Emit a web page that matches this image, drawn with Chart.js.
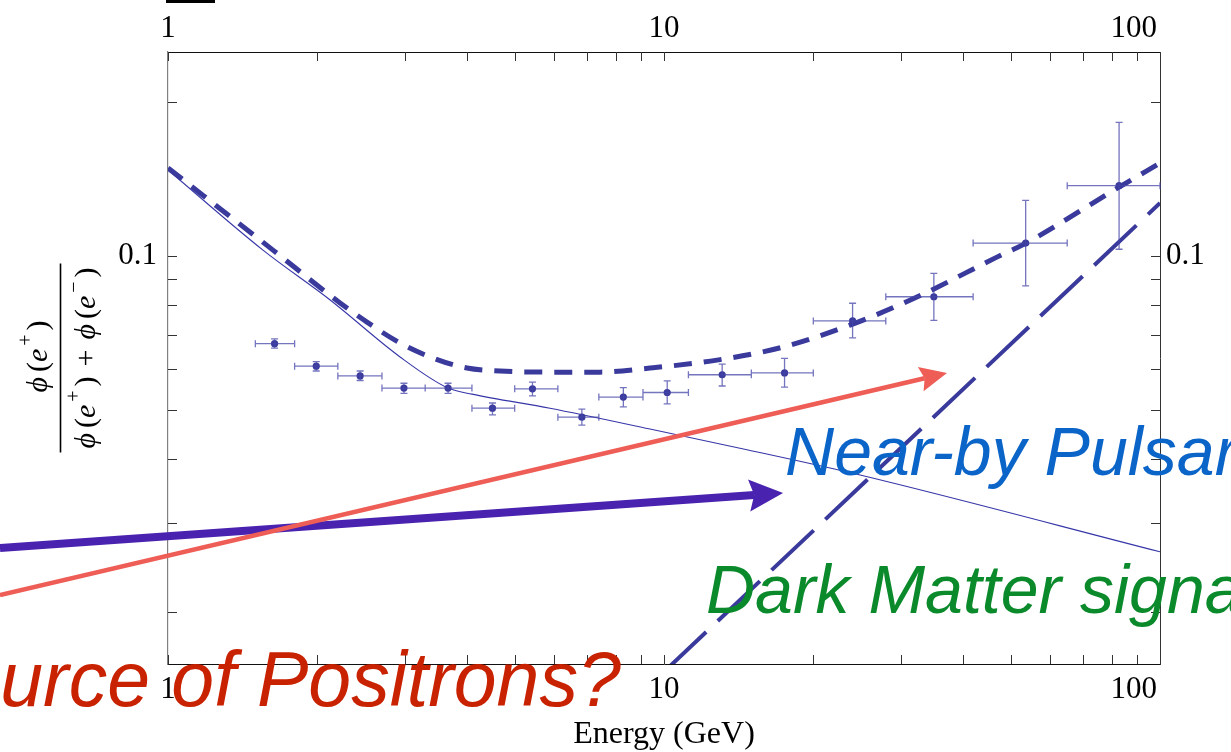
<!DOCTYPE html>
<html>
<head>
<meta charset="utf-8">
<title>Positron fraction</title>
<script src="https://cdn.jsdelivr.net/npm/chart.js@4.4.1/dist/chart.umd.min.js"></script>
<style>
  html, body { margin: 0; padding: 0; background: #ffffff; }
  #wrap { width: 1231px; height: 752px; position: relative; overflow: hidden; }
</style>
</head>
<body>
<div id="wrap"><canvas id="chart" width="1231" height="752"></canvas></div>
<script>
// ---- Measured positron fraction: bin centres, bin edges (GeV), value and 1-sigma bounds
const energy       = [1.64, 1.99, 2.44, 2.99, 3.67, 4.51, 5.43, 6.83, 8.28, 10.15, 13.1, 17.5, 24.0, 35.0, 53.6, 82.7];
const energyLow    = [1.50, 1.80, 2.20, 2.70, 3.30, 4.10, 5.00, 6.11, 7.39, 9.07, 11.2, 15.0, 20.0, 28.0, 42.0, 65.0];
const energyHigh   = [1.80, 2.20, 2.70, 3.30, 4.10, 5.00, 6.11, 7.39, 9.07, 11.2, 15.0, 20.0, 28.0, 42.0, 65.0, 100];
const fraction     = [0.0673, 0.0608, 0.0582, 0.0551, 0.0551, 0.0503, 0.0549, 0.0483, 0.0529, 0.0540, 0.0585, 0.0590, 0.0746, 0.0832, 0.106, 0.1374];
const fractionLow  = [0.0660, 0.0595, 0.0570, 0.0538, 0.0538, 0.0488, 0.0532, 0.0466, 0.0506, 0.0513, 0.0556, 0.0553, 0.0691, 0.0748, 0.0874, 0.1031];
const fractionHigh = [0.0688, 0.0621, 0.0595, 0.0563, 0.0563, 0.0515, 0.0566, 0.0501, 0.0552, 0.0569, 0.0614, 0.0630, 0.0808, 0.0925, 0.1286, 0.1828];

// ---- Secondary (background) positron fraction
const backgroundEnergy = [1, 1.554, 2.123, 2.937, 3.669, 4.102, 5.89, 9.37, 14.7, 24.85, 100];
const backgroundValue  = [0.1475, 0.1027, 0.0820, 0.0634, 0.0551, 0.0536, 0.0503, 0.0458, 0.0417, 0.0372, 0.0263];

// ---- Background + extra primary source
const totalEnergy = [1, 1.628, 2.223, 2.519, 2.937, 3.421, 4.007, 4.671, 5.891, 7.43, 9.37, 12.79, 17.38, 23.71, 32.36, 46.9, 53.7, 82.7, 100];
const totalValue  = [0.1488, 0.1027, 0.0809, 0.0742, 0.0675, 0.0631, 0.0603, 0.0595, 0.0592, 0.0592, 0.0603, 0.0625, 0.0663, 0.0732, 0.0831, 0.0995, 0.106, 0.1365, 0.1521];

// ---- Primary source contribution alone
const sourceEnergy = [10, 100];
const sourceValue  = [0.0153, 0.127];

// ---- Axis ticks
const xTickValues  = [1, 2, 3, 4, 5, 6, 7, 8, 9, 10, 20, 30, 40, 50, 60, 70, 80, 90, 100];
const xLabelValues = [1, 10, 100];
const yTickValues  = [0.02, 0.03, 0.04, 0.05, 0.06, 0.07, 0.08, 0.09, 0.1, 0.2];
const yLabelValues = [0.1];

// ---- Slide annotations, anchored in (energy, fraction) coordinates
const arrowPulsar = { from: [0.4584, 0.02676], to: [17.38, 0.03429] };
const arrowDark   = { from: [0.4584, 0.02164], to: [37.2, 0.05896] };
const labelPulsar = { text: 'Near-by Pulsar',       at: [17.54, 0.03720] };
const labelDark   = { text: 'Dark Matter signal',   at: [12.15, 0.01995] };
const labelSource = { text: 'Source of Positrons?', at: [0.2963, 0.013113] };

const INK = '#3a3a9c';
const SERIF = '"Liberation Serif", "Times New Roman", "DejaVu Serif", serif';
const SANS = '"Liberation Sans", Arial, Helvetica, sans-serif';
const TICK = 9;

const pairs = (xs, ys) => xs.map((x, i) => ({ x: x, y: ys[i] }));

// error bars under the data points
const errorBars = {
  id: 'errorBars',
  afterDatasetsDraw(chart) {
    const { ctx, scales: { x, y } } = chart;
    ctx.save();
    ctx.strokeStyle = 'rgba(70,70,170,0.75)';
    ctx.lineWidth = 1.3;
    ctx.beginPath();
    energy.forEach((e, i) => {
      const px = x.getPixelForValue(e), py = y.getPixelForValue(fraction[i]);
      const xl = x.getPixelForValue(energyLow[i]), xh = x.getPixelForValue(energyHigh[i]);
      const yl = y.getPixelForValue(fractionLow[i]), yh = y.getPixelForValue(fractionHigh[i]);
      ctx.moveTo(xl, py); ctx.lineTo(xh, py);
      ctx.moveTo(xl, py - 3.5); ctx.lineTo(xl, py + 3.5);
      ctx.moveTo(xh, py - 3.5); ctx.lineTo(xh, py + 3.5);
      ctx.moveTo(px, yl); ctx.lineTo(px, yh);
      ctx.moveTo(px - 3.5, yl); ctx.lineTo(px + 3.5, yl);
      ctx.moveTo(px - 3.5, yh); ctx.lineTo(px + 3.5, yh);
    });
    ctx.stroke();
    ctx.restore();
  }
};

// inward frame ticks and the horizontal-axis numbers
const frameTicks = {
  id: 'frameTicks',
  afterDatasetsDraw(chart) {
    const { ctx, chartArea: a, scales } = chart;
    ctx.save();
    ctx.strokeStyle = '#333333';
    ctx.lineWidth = 1;
    ctx.beginPath();
    xTickValues.forEach(v => {
      const px = Math.round(scales.x.getPixelForValue(v)) + 0.5;
      ctx.moveTo(px, a.bottom); ctx.lineTo(px, a.bottom - TICK);
      ctx.moveTo(px, a.top); ctx.lineTo(px, a.top + TICK);
    });
    yTickValues.forEach(v => {
      const py = Math.round(scales.y.getPixelForValue(v)) + 0.5;
      ctx.moveTo(a.left, py); ctx.lineTo(a.left + TICK, py);
      ctx.moveTo(a.right, py); ctx.lineTo(a.right - TICK, py);
    });
    ctx.stroke();

    ctx.fillStyle = '#000000';
    ctx.font = '31px ' + SERIF;
    ctx.textBaseline = 'alphabetic';
    xLabelValues.forEach(v => {
      const px = scales.x.getPixelForValue(v);
      const txt = String(v);
      const atEnd = px >= a.right - 1;
      ctx.textAlign = atEnd ? 'right' : 'center';
      const tx = atEnd ? px - 3 : px;
      ctx.fillText(txt, tx, a.top - 15);
      ctx.fillText(txt, tx, a.bottom + 34);
    });
    // small dark bar above the frame
    ctx.fillRect(scales.x.getPixelForValue(1) - 2, 0, 49, 3);
    ctx.restore();
  }
};

function drawRich(ctx, segs, cx, baseline, size) {
  const fonts = {
    it: 'italic ' + size + 'px ' + SERIF,
    rm: size + 'px ' + SERIF,
    sup: Math.round(size * 0.68) + 'px ' + SERIF
  };
  let w = 0;
  const items = segs.map(s => {
    if (s.gap) { w += s.gap; return { gap: s.gap }; }
    const f = s.sup ? fonts.sup : (s.it ? fonts.it : fonts.rm);
    ctx.font = f;
    const mw = ctx.measureText(s.t).width;
    w += mw;
    return { t: s.t, f: f, w: mw, dy: s.sup ? -size * 0.5 : 0 };
  });
  let x = cx - w / 2;
  items.forEach(it => {
    if (it.gap) { x += it.gap; return; }
    ctx.font = it.f;
    ctx.fillText(it.t, x, baseline + it.dy);
    x += it.w;
  });
  return w;
}

// vertical axis title: positron fraction written as a fraction
const fractionTitle = {
  id: 'fractionTitle',
  afterDraw(chart) {
    const { ctx, chartArea: a } = chart;
    const size = 30;
    ctx.save();
    ctx.translate(a.left - 107.5, (a.top + a.bottom) / 2);
    ctx.rotate(-Math.PI / 2);
    ctx.fillStyle = '#000000';
    ctx.textAlign = 'left';
    ctx.textBaseline = 'alphabetic';
    const num = [
      { t: 'ϕ', it: true }, { gap: 5 }, { t: '(' }, { t: 'e', it: true }, { gap: 3 }, { t: '+', sup: true }, { gap: 4 }, { t: ')' }
    ];
    const den = [
      { t: 'ϕ', it: true }, { gap: 5 }, { t: '(' }, { t: 'e', it: true }, { gap: 3 }, { t: '+', sup: true }, { gap: 4 }, { t: ')' },
      { gap: 10 }, { t: '+' }, { gap: 10 },
      { t: 'ϕ', it: true }, { gap: 5 }, { t: '(' }, { t: 'e', it: true }, { gap: 3 }, { t: '−', sup: true }, { gap: 4 }, { t: ')' }
    ];
    drawRich(ctx, num, 1.5, -14, size);
    drawRich(ctx, den, 0, 34, size);
    ctx.strokeStyle = '#000000';
    ctx.lineWidth = 1.6;
    ctx.beginPath();
    ctx.moveTo(-94.5, 0); ctx.lineTo(94.5, 0);
    ctx.stroke();
    ctx.restore();
  }
};

function drawArrow(ctx, x0, y0, x1, y1, width, headLen, headHalf, color) {
  const ang = Math.atan2(y1 - y0, x1 - x0);
  const c = Math.cos(ang), s = Math.sin(ang);
  const bx = x1 - headLen * c, by = y1 - headLen * s;
  const nx = -s, ny = c;
  ctx.strokeStyle = color;
  ctx.fillStyle = color;
  ctx.lineWidth = width;
  ctx.lineCap = 'butt';
  ctx.beginPath();
  ctx.moveTo(x0, y0);
  ctx.lineTo(x1 - headLen * 0.85 * c, y1 - headLen * 0.85 * s);
  ctx.stroke();
  ctx.beginPath();
  ctx.moveTo(x1, y1);
  ctx.lineTo(bx + nx * headHalf, by + ny * headHalf);
  ctx.lineTo(x1 - headLen * 0.85 * c, y1 - headLen * 0.85 * s);
  ctx.lineTo(bx - nx * headHalf, by - ny * headHalf);
  ctx.closePath();
  ctx.fill();
}

// arrows and captions laid over the plot
const slideNotes = {
  id: 'slideNotes',
  afterDraw(chart) {
    const { ctx, scales: { x, y } } = chart;
    const P = pt => [x.getPixelForValue(pt[0]), y.getPixelForValue(pt[1])];
    ctx.save();
    let a = P(arrowPulsar.from), b = P(arrowPulsar.to);
    drawArrow(ctx, a[0], a[1], b[0], b[1], 8, 34, 16, '#4a22b0');
    a = P(arrowDark.from); b = P(arrowDark.to);
    drawArrow(ctx, a[0], a[1], b[0], b[1], 4.5, 27, 12.5, '#ee5d56');

    ctx.textAlign = 'left';
    ctx.textBaseline = 'alphabetic';
    let p = P(labelPulsar.at);
    ctx.font = 'italic 68px ' + SANS;
    ctx.fillStyle = '#0b64c8';
    ctx.fillText(labelPulsar.text, p[0], p[1]);
    p = P(labelDark.at);
    ctx.fillStyle = '#0b8a2c';
    ctx.fillText(labelDark.text, p[0], p[1]);
    p = P(labelSource.at);
    ctx.font = 'italic 77px ' + SANS;
    ctx.fillStyle = '#c92200';
    ctx.fillText(labelSource.text, p[0], p[1]);
    ctx.restore();
  }
};

const logX = (extra) => Object.assign({
  type: 'logarithmic', min: 1, max: 100,
  grid: { display: false, drawTicks: false },
  border: { display: true, color: '#111111', width: 1 },
  afterBuildTicks: s => { s.ticks = xTickValues.map(v => ({ value: v })); },
  ticks: { display: false, autoSkip: false }
}, extra);

const logY = (extra) => Object.assign({
  type: 'logarithmic', min: 0.01585, max: 0.2512,
  grid: { display: false, drawTicks: false },
  afterBuildTicks: s => { s.ticks = yTickValues.map(v => ({ value: v })); },
}, extra);

const yLabel = v => (yLabelValues.some(l => Math.abs(l - v) < 1e-9) ? String(v) : '');

new Chart(document.getElementById('chart'), {
  type: 'scatter',
  data: {
    datasets: [
      {
        label: 'Measured fraction',
        data: pairs(energy, fraction),
        showLine: false,
        pointRadius: 3.6,
        pointBackgroundColor: INK,
        pointBorderWidth: 0
      },
      {
        label: 'Background + source',
        data: pairs(totalEnergy, totalValue),
        showLine: true,
        borderColor: INK,
        borderWidth: 5,
        borderDash: [18, 12],
        cubicInterpolationMode: 'monotone',
        pointRadius: 0
      },
      {
        label: 'Secondary background',
        data: pairs(backgroundEnergy, backgroundValue),
        showLine: true,
        borderColor: '#3636a8',
        borderWidth: 1.1,
        cubicInterpolationMode: 'monotone',
        pointRadius: 0
      },
      {
        label: 'Primary source',
        data: pairs(sourceEnergy, sourceValue),
        showLine: true,
        borderColor: INK,
        borderWidth: 4,
        borderDash: [58, 16],
        pointRadius: 0
      }
    ]
  },
  options: {
    responsive: false,
    animation: false,
    events: [],
    layout: { padding: 0 },
    plugins: { legend: { display: false }, tooltip: { enabled: false } },
    scales: {
      x: logX({
        position: 'bottom',
        afterFit: s => { s.height = 88; },
        title: {
          display: true,
          text: 'Energy (GeV)',
          color: '#000000',
          font: { family: SERIF, size: 32, lineHeight: 1 },
          padding: { top: 0, bottom: 1 }
        }
      }),
      x2: logX({
        position: 'top',
        afterFit: s => { s.height = 52; }
      }),
      y: logY({
        position: 'left',
        border: { display: true, color: '#808080', width: 1.2 },
        afterFit: s => { s.width = 168; },
        ticks: { autoSkip: false, padding: 11, color: '#000000', font: { family: SERIF, size: 31 }, callback: yLabel }
      }),
      y2: logY({
        position: 'right',
        border: { display: true, color: '#333333', width: 1 },
        afterFit: s => { s.width = 71; },
        ticks: { autoSkip: false, padding: 6, color: '#000000', font: { family: SERIF, size: 31 }, callback: yLabel }
      })
    }
  },
  plugins: [errorBars, frameTicks, fractionTitle, slideNotes]
});
</script>
</body>
</html>
